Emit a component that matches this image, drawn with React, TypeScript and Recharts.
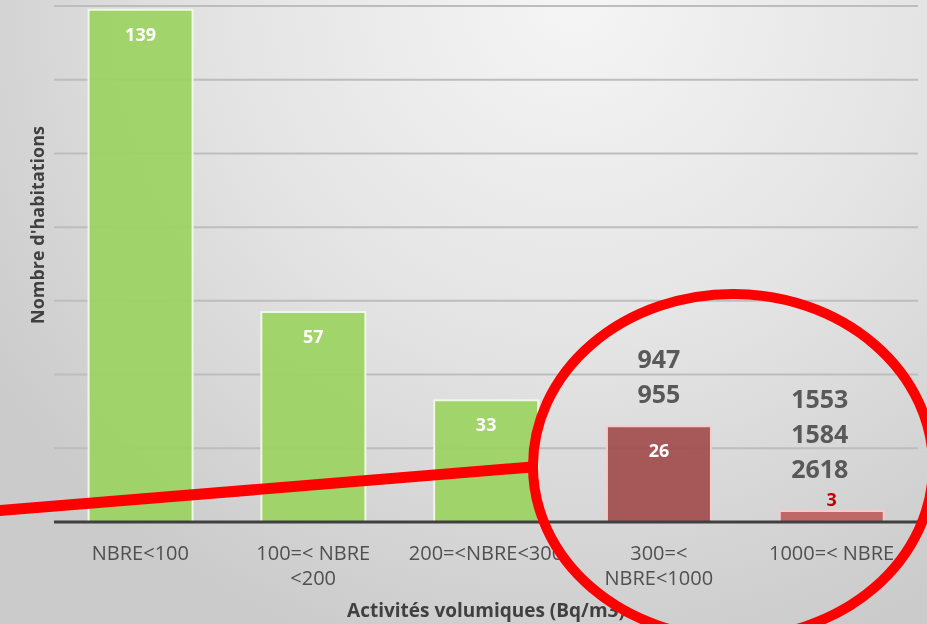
import { BarChart, Bar, XAxis, YAxis, CartesianGrid, Cell, LabelList } from 'recharts';

const categories = ['NBRE<100', '100=< NBRE <200', '200=<NBRE<300', '300=< NBRE<1000', '1000=< NBRE'];
const tickLines = [['NBRE<100'], ['100=< NBRE', '<200'], ['200=<NBRE<300'], ['300=<', 'NBRE<1000'], ['1000=< NBRE']];
const counts = [139, 57, 33, 26, 3];
const notes = [[], [], [], ['947', '955'], ['1553', '1584', '2618']];
const yTicks = [0, 20, 40, 60, 80, 100, 120, 140];

const GREEN = '#9bd360';
const COLORS = [GREEN, GREEN, GREEN, '#a24c4c', '#be5e5e'];
const STROKES = ['#eef8e4', '#eef8e4', '#eef8e4', '#f3cccc', '#f3cccc'];

const FONT = '"Open Sans", "Noto Sans", sans-serif';

const data = categories.map((name, i) => ({ name, count: counts[i] }));

function XTick(props: any) {
  const { x, y, payload } = props;
  const lines = tickLines[payload.index] || [];
  return (
    <text x={x} y={y + 36} textAnchor="middle" fill="#505050" fontSize={20} fontFamily={FONT}>
      {lines.map((l, i) => (
        <tspan key={i} x={x} dy={i === 0 ? 0 : 25}>
          {l}
        </tspan>
      ))}
    </text>
  );
}

// no visible y tick labels, but ticks are still needed for the grid
function EmptyTick() {
  return <g />;
}

function BarLabel(props: any) {
  const { x, y, width, value, index } = props;
  const cx = x + width / 2;
  const small = value < 10;
  const extra: string[] = notes[index] || [];
  const base = small ? 42 : 32;
  return (
    <g>
      {small ? (
        <text x={cx} y={y - 5} textAnchor="middle" fill="#c00000" fontSize={18} fontWeight={700} fontFamily={FONT}>
          {value}
        </text>
      ) : (
        <text x={cx} y={y + 31} textAnchor="middle" fill="#ffffff" fontSize={18} fontWeight={700} fontFamily={FONT}>
          {value}
        </text>
      )}
      {extra.map((t, i) => (
        <text
          key={t}
          x={cx - (small ? 12 : 0)}
          y={y - base + 9 - (extra.length - 1 - i) * 35}
          textAnchor="middle"
          fill="#595959"
          fontSize={25}
          fontWeight={700}
          fontFamily={FONT}
        >
          {t}
        </text>
      ))}
    </g>
  );
}

function YTitle(props: any) {
  const { viewBox } = props;
  const x = viewBox.x + 44;
  const y = 225;
  return (
    <text
      x={x}
      y={y}
      transform={`rotate(-90 ${x} ${y})`}
      textAnchor="middle"
      fill="#404040"
      fontSize={18}
      fontWeight={700}
      fontFamily={FONT}
    >
      Nombre d'habitations
    </text>
  );
}

function XTitle(props: any) {
  const { viewBox } = props;
  return (
    <text
      x={viewBox.x + viewBox.width / 2}
      y={617}
      textAnchor="middle"
      fill="#404040"
      fontSize={19}
      fontWeight={700}
      fontFamily={FONT}
    >
      Activités volumiques (Bq/m3)
    </text>
  );
}

export default function App() {
  return (
    <div
      style={{
        position: 'fixed',
        left: 0,
        top: 0,
        width: 927,
        height: 624,
        overflow: 'hidden',
        background: 'radial-gradient(ellipse 75% 110% at 62% 0%, #f5f5f5 0%, #e4e4e4 50%, #cbcbcb 100%)',
      }}
    >
      <BarChart
        width={927}
        height={624}
        data={data}
        margin={{ top: 6, right: 9, bottom: 0, left: 0 }}
        barCategoryGap="20%"
      >
        <CartesianGrid vertical={false} stroke="#bdbdbd" strokeWidth={2} />
        <XAxis
          dataKey="name"
          height={102}
          tick={<XTick />}
          tickLine={false}
          tickSize={0}
          axisLine={{ stroke: '#404040', strokeWidth: 3 }}
          interval={0}
          label={<XTitle />}
        />
        <YAxis
          width={54}
          domain={[0, 140]}
          ticks={yTicks}
          interval={0}
          tick={<EmptyTick />}
          tickLine={false}
          axisLine={false}
          label={<YTitle />}
        />
        <Bar dataKey="count" isAnimationActive={false} strokeWidth={2} fillOpacity={0.92}>
          {data.map((_, i) => (
            <Cell key={i} fill={COLORS[i]} stroke={STROKES[i]} />
          ))}
          <LabelList dataKey="count" content={<BarLabel />} />
        </Bar>
      </BarChart>
      <svg width={927} height={624} style={{ position: 'absolute', left: 0, top: 0, pointerEvents: 'none' }}>
        <line x1={-5} y1={511} x2={532} y2={467} stroke="#ff0000" strokeWidth={11} />
        <ellipse cx={733} cy={466} rx={200} ry={172} fill="none" stroke="#ff0000" strokeWidth={10} />
      </svg>
    </div>
  );
}
